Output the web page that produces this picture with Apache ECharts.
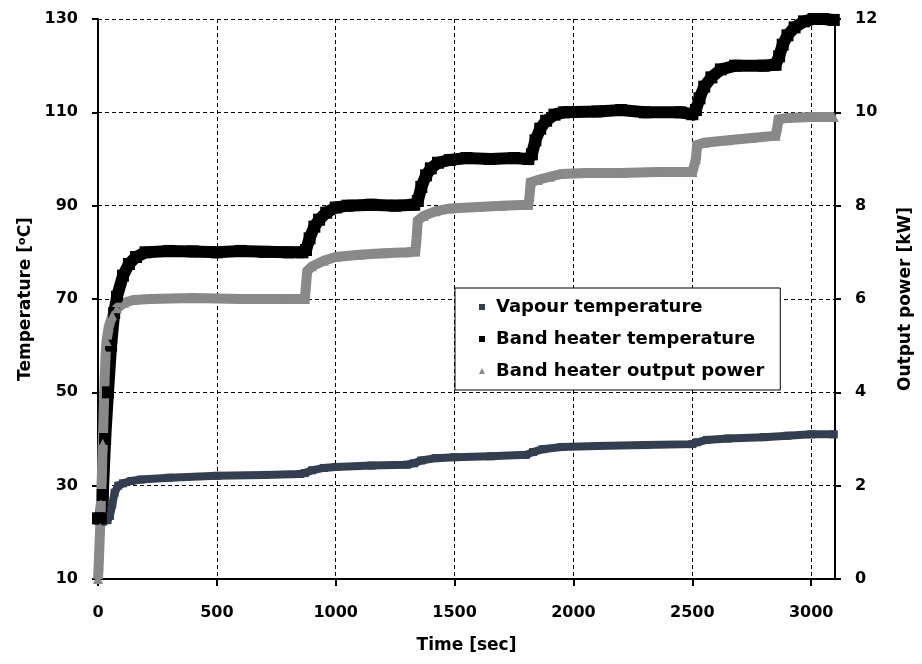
<!DOCTYPE html>
<html>
<head>
<meta charset="utf-8">
<script src="https://cdn.jsdelivr.net/npm/echarts@6/dist/echarts.min.js"></script>
<style>
  html, body { margin: 0; padding: 0; background: #fff; }
  #chart { width: 922px; height: 664px; }
</style>
</head>
<body>
<div id="chart"></div>
<script>
// Time-axis ticks and series data (time in seconds)
const timeTicks = [0, 500, 1000, 1500, 2000, 2500, 3000];
const tempTicks = [10, 30, 50, 70, 90, 110, 130];
const powerTicks = [0, 2, 4, 6, 8, 10, 12];

// Vapour temperature [°C]
const vapourTime = [0, 20, 40, 50, 60, 70, 85, 105, 140, 180, 300, 500, 700, 850, 870, 900, 950, 1000,
  1150, 1300, 1330, 1360, 1420, 1500, 1650, 1800, 1830, 1870, 1950, 2100, 2300, 2500, 2520, 2560, 2650,
  2800, 2900, 3000, 3095];
const vapourTemp = [22.5, 22.3, 22.6, 23.5, 26, 28.5, 30, 30.5, 31, 31.3, 31.7, 32.1, 32.3, 32.5, 32.7, 33.3, 33.8, 34,
  34.3, 34.5, 34.8, 35.4, 35.9, 36.1, 36.3, 36.6, 37.2, 37.8, 38.3, 38.5, 38.7, 38.9, 39.3, 39.8, 40.1,
  40.4, 40.7, 41, 41];

// Band heater temperature [°C]
const bandTime = [0, 12, 20, 30, 42, 55, 68, 80, 105, 130, 160, 200, 300, 400, 500, 600, 700, 800, 860,
  875, 890, 910, 930, 960, 1000, 1050, 1150, 1250, 1330, 1345, 1360, 1380, 1400, 1430, 1480, 1550, 1650,
  1750, 1810, 1825, 1840, 1860, 1885, 1920, 1960, 2100, 2200, 2300, 2450, 2500, 2515, 2530, 2550, 2580,
  2620, 2680, 2800, 2850, 2865, 2880, 2900, 2930, 2970, 3010, 3050, 3095];
const bandTemp = [23, 23, 28, 40, 50, 60, 67, 70.5, 75, 77.5, 79, 80, 80.3, 80.2, 80, 80.3, 80.1, 80, 80,
  80.5, 83, 85.5, 87, 88.5, 89.6, 90, 90.2, 90, 90.2, 91, 94, 96.5, 98, 99.2, 99.8, 100.2, 100,
  100.2, 100, 101, 104, 106.5, 108.2, 109.5, 110, 110.2, 110.5, 110, 110, 109.6, 110.5, 113, 115.5, 117.5,
  119.2, 120, 120, 120.2, 122, 124.5, 126.5, 128.2, 129.5, 130, 130, 129.8];

// Band heater output power [kW]
const powerTime = [0, 3, 6, 9, 12, 16, 20, 24, 28, 32, 36, 45, 60, 80, 110, 150, 220, 400, 600, 800, 870,
  875, 880, 900, 950, 1000, 1100, 1200, 1300, 1335, 1340, 1345, 1370, 1420, 1480, 1600, 1700, 1810, 1815,
  1820, 1850, 1900, 1950, 2050, 2200, 2350, 2500, 2515, 2520, 2550, 2650, 2750, 2850, 2858, 2862, 2900,
  3000, 3095];
const powerKW = [0, 0.3, 0.7, 1.1, 1.6, 2.2, 2.9, 3.6, 4.3, 4.8, 5.1, 5.4, 5.65, 5.8, 5.92, 5.98, 6.0, 6.02, 6.0, 6.0, 6.0,
  6.3, 6.6, 6.7, 6.82, 6.9, 6.95, 6.98, 7.0, 7.02, 7.3, 7.68, 7.78, 7.88, 7.94, 7.97, 8.0, 8.02, 8.2,
  8.5, 8.55, 8.62, 8.68, 8.7, 8.7, 8.72, 8.72, 9.0, 9.3, 9.35, 9.4, 9.45, 9.5, 9.7, 9.85, 9.88,
  9.9, 9.9];

const pairs = (xs, ys) => xs.map((x, i) => [x, ys[i]]);

const FONT = 'DejaVu Sans';
const navy = '#333f50';
const grey = '#898989';

const chart = echarts.init(document.getElementById('chart'));

const gridDash = { show: true, lineStyle: { color: '#000', type: [4, 3], width: 1 } };
const axisLbl = { color: '#000', fontFamily: FONT, fontWeight: 'bold', fontSize: 16 };
const nameStyle = { color: '#000', fontFamily: FONT, fontWeight: 'bold', fontSize: 17 };

chart.setOption({
  animation: false,
  backgroundColor: '#fff',
  grid: { left: 98, right: 83, top: 19, bottom: 85 },
  legend: {
    orient: 'vertical',
    left: 455,
    top: 288,
    padding: [10, 16, 10, 24],
    itemGap: 14,
    itemWidth: 6,
    itemHeight: 6,
    backgroundColor: '#fff',
    borderColor: '#000',
    borderWidth: 1,
    borderRadius: 0,
    textStyle: { color: '#000', fontFamily: FONT, fontWeight: 'bold', fontSize: 18, padding: [0, 0, 0, 6] },
    data: [
      { name: 'Vapour temperature', icon: 'rect' },
      { name: 'Band heater temperature', icon: 'rect' },
      { name: 'Band heater output power', icon: 'triangle' }
    ]
  },
  xAxis: {
    type: 'value',
    min: timeTicks[0],
    max: 3100,
    interval: 500,
    name: 'Time [sec]',
    nameLocation: 'middle',
    nameGap: 58,
    nameTextStyle: nameStyle,
    axisLine: { show: true, onZero: false, lineStyle: { color: '#000', width: 2 } },
    axisTick: { show: true, length: 7, lineStyle: { color: '#000', width: 2 } },
    axisLabel: Object.assign({ margin: 26, formatter: v => String(v) }, axisLbl),
    splitLine: gridDash
  },
  yAxis: [
    {
      type: 'value',
      min: tempTicks[0],
      max: tempTicks[tempTicks.length - 1],
      interval: 20,
      name: 'Temperature [{s|o}C]',
      nameLocation: 'middle',
      nameRotate: 90,
      nameGap: 62,
      nameTextStyle: Object.assign({}, nameStyle, {
        rich: { s: { fontFamily: FONT, fontWeight: 'bold', fontSize: 11, color: '#000', verticalAlign: 'top', lineHeight: 14 } }
      }),
      axisLine: { show: true, onZero: false, lineStyle: { color: '#000', width: 2 } },
      axisTick: { show: true, length: 6, lineStyle: { color: '#000', width: 2 } },
      axisLabel: Object.assign({ margin: 20 }, axisLbl),
      splitLine: gridDash
    },
    {
      type: 'value',
      min: powerTicks[0],
      max: powerTicks[powerTicks.length - 1],
      interval: 2,
      position: 'right',
      name: 'Output power [kW]',
      nameLocation: 'middle',
      nameRotate: 90,
      nameGap: 62,
      nameTextStyle: nameStyle,
      axisLine: { show: true, onZero: false, lineStyle: { color: '#000', width: 2 } },
      axisTick: { show: true, length: 6, lineStyle: { color: '#000', width: 2 } },
      axisLabel: Object.assign({ margin: 20 }, axisLbl),
      splitLine: { show: false }
    }
  ],
  series: [
    {
      name: 'Vapour temperature',
      type: 'line',
      yAxisIndex: 0,
      data: pairs(vapourTime, vapourTemp),
      symbol: 'rect',
      symbolSize: 8,
      showSymbol: true,
      lineStyle: { color: navy, width: 8, cap: 'butt', join: 'miter' },
      itemStyle: { color: navy }
    },
    {
      name: 'Band heater temperature',
      type: 'line',
      yAxisIndex: 0,
      data: pairs(bandTime, bandTemp),
      symbol: 'rect',
      symbolSize: 12,
      showSymbol: true,
      lineStyle: { color: '#000', width: 12, cap: 'butt', join: 'miter' },
      itemStyle: { color: '#000' }
    },
    {
      name: 'Band heater output power',
      type: 'line',
      yAxisIndex: 1,
      data: pairs(powerTime, powerKW),
      symbol: 'triangle',
      symbolSize: 10,
      showSymbol: true,
      lineStyle: { color: grey, width: 10, cap: 'butt', join: 'miter' },
      itemStyle: { color: grey }
    }
  ]
});
</script>
</body>
</html>
